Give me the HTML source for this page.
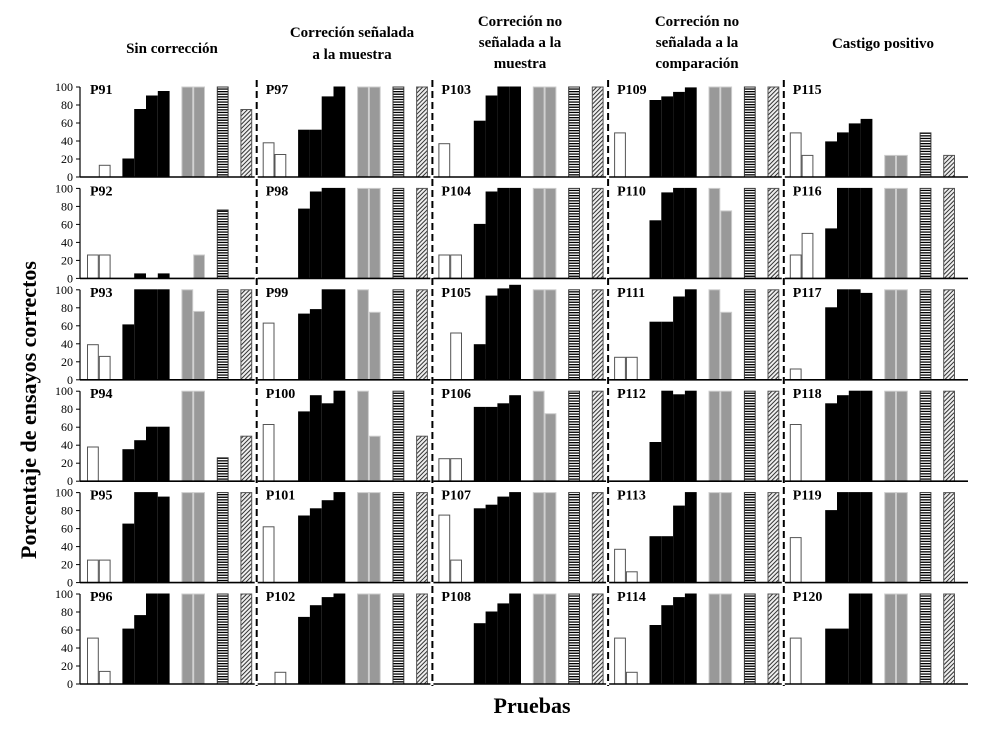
<!DOCTYPE html>
<html><head><meta charset="utf-8"><style>
html,body{margin:0;padding:0;background:#fff}
svg{display:block}
text{font-family:"Liberation Serif",serif}
</style></head><body>
<svg id="chart" width="986" height="736" viewBox="0 0 986 736" xmlns="http://www.w3.org/2000/svg">
<defs>
<pattern id="hstripe" patternUnits="userSpaceOnUse" width="4" height="2.6"><rect width="4" height="2.6" fill="#fff"/><rect width="4" height="1.3" fill="#000"/></pattern>
<pattern id="dstripe" patternUnits="userSpaceOnUse" width="3" height="3" patternTransform="rotate(45)"><rect width="3" height="3" fill="#eee"/><rect width="1" height="3" fill="#333"/></pattern>
</defs>
<g id="headers" font-weight="bold" font-size="15" text-anchor="middle">
<text x="172" y="53">Sin corrección</text>
<text x="352" y="37">Correción señalada<tspan x="352" dy="22">a la muestra</tspan></text>
<text x="520" y="26">Correción no<tspan x="520" dy="21">señalada a la</tspan><tspan x="520" dy="21">muestra</tspan></text>
<text x="697" y="26">Correción no<tspan x="697" dy="21">señalada a la</tspan><tspan x="697" dy="21">comparación</tspan></text>
<text x="883" y="48">Castigo positivo</text>
</g>
<text transform="translate(36,410) rotate(-90)" text-anchor="middle" font-weight="bold" font-size="22">Porcentaje de ensayos correctos</text>
<text x="532" y="713" text-anchor="middle" font-weight="bold" font-size="22">Pruebas</text>
<g id="plots"></g>
</svg>
<script>
const participants = [
 ["P91","P92","P93","P94","P95","P96"],
 ["P97","P98","P99","P100","P101","P102"],
 ["P103","P104","P105","P106","P107","P108"],
 ["P109","P110","P111","P112","P113","P114"],
 ["P115","P116","P117","P118","P119","P120"]
];
const yTicks = [0,20,40,60,80,100];
// each panel: [white1, white2, black1..4, gray1, gray2, hstripe, diag]
const col1 = [
 [0,13,20,75,90,95,100,100,100,75],
 [26,26,0,5,0,5,0,26,76,0],
 [39,26,61,100,100,100,100,76,100,100],
 [38,0,35,45,60,60,100,100,26,50],
 [25,25,65,100,100,95,100,100,100,100],
 [51,14,61,76,100,100,100,100,100,100]
];
const col2 = [
 [38,25,52,52,89,100,100,100,100,100],
 [0,0,77,96,100,100,100,100,100,100],
 [63,0,73,78,100,100,100,75,100,100],
 [63,0,77,95,86,100,100,50,100,50],
 [62,0,74,82,91,100,100,100,100,100],
 [0,13,74,87,96,100,100,100,100,100]
];
const col3 = [
 [37,0,62,90,100,100,100,100,100,100],
 [26,26,60,96,100,100,100,100,100,100],
 [0,52,39,93,101,105,100,100,100,100],
 [25,25,82,82,86,95,100,75,100,100],
 [75,25,82,86,95,100,100,100,100,100],
 [0,0,67,80,89,100,100,100,100,100]
];
const col4 = [
 [49,0,85,89,94,99,100,100,100,100],
 [0,0,64,95,100,100,100,75,100,100],
 [25,25,64,64,92,100,100,75,100,100],
 [0,0,43,100,96,100,100,100,100,100],
 [37,12,51,51,85,100,100,100,100,100],
 [51,13,65,87,96,100,100,100,100,100]
];
const col5 = [
 [49,24,39,49,59,64,24,24,49,24],
 [26,50,55,100,100,100,100,100,100,100],
 [12,0,80,100,100,96,100,100,100,100],
 [63,0,86,95,100,100,100,100,100,100],
 [50,0,80,100,100,100,100,100,100,100],
 [51,0,61,61,100,100,100,100,100,100]
];
const columns = [col1,col2,col3,col4,col5];
const barKinds = ["white","white","black","black","black","black","gray","gray","hstripe","diag"];
const barSlots = [0,1,3,4,5,6,8,9,11,13];

const NS="http://www.w3.org/2000/svg";
const g=document.getElementById('plots');
const colX = c => 87 + c*175.7;
const rowBase = r => 177 + r*101.4;
const yScale = (r,v) => rowBase(r) - v*0.9;
const slotX = (c,s) => colX(c) + s*11.8;
function mk(tag,attrs){const e=document.createElementNS(NS,tag);for(const k in attrs)e.setAttribute(k,attrs[k]);return e;}
const fills={white:"#fff",black:"#000",gray:"#999",hstripe:"url(#hstripe)",diag:"url(#dstripe)"};
const strokes={white:"#555",black:"#000",gray:"#ccc",hstripe:"#333",diag:"#555"};

for(let c=0;c<5;c++){
  for(let r=0;r<6;r++){
    const panel=mk('g',{});
    
    
    g.appendChild(panel);
    const vals=columns[c][r];
    vals.forEach((v,i)=>{
      if(v<=0) return;
      const k=barKinds[i];
      const y=yScale(r,v);
      const b=mk('rect',{x:slotX(c,barSlots[i])+0.5,y:y,width:10.8,height:rowBase(r)-y,fill:fills[k],stroke:strokes[k],'stroke-width':1});
      
      
      panel.appendChild(b);
    });
    const left = c===0?80:colX(c)-5;
    const right = c===4?968:colX(c+1)-8;
    const ax=mk('line',{x1:left,x2:right,y1:rowBase(r),y2:rowBase(r),stroke:'#000','stroke-width':1.6});
    
    
    panel.appendChild(ax);
    const lbl=mk('text',{x:colX(c)+3,y:rowBase(r)-83,'font-weight':'bold','font-size':14});
    lbl.textContent=participants[c][r];
    
    
    panel.appendChild(lbl);
    if(c===0){
      const ya=mk('line',{x1:80,x2:80,y1:yScale(r,100),y2:rowBase(r),stroke:'#000','stroke-width':1.2});
      
      
      panel.appendChild(ya);
      yTicks.forEach(t=>{
        const tk=mk('line',{x1:76,x2:80,y1:yScale(r,t),y2:yScale(r,t),stroke:'#000','stroke-width':1});
        
        
        panel.appendChild(tk);
        const tl=mk('text',{x:73,y:yScale(r,t)+4,'text-anchor':'end','font-size':12});
        tl.textContent=t;
        
        
        panel.appendChild(tl);
      });
    }
  }
  if(c>0){
    const x=colX(c)-6;
    const d=mk('line',{x1:x,x2:x,y1:80,y2:686,stroke:'#000','stroke-width':2,'stroke-dasharray':'7,4'});
    
    
    g.appendChild(d);
  }
}
</script>
</body></html>
